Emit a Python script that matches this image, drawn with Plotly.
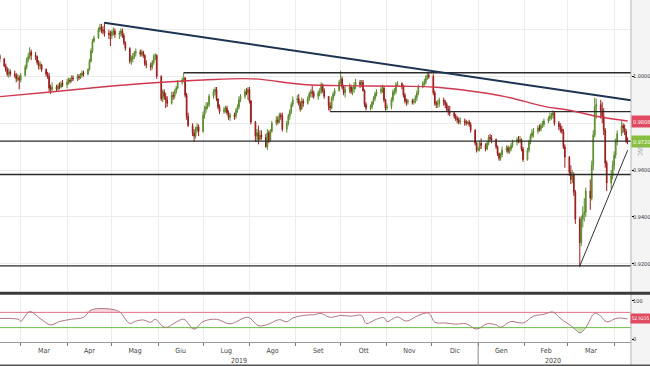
import pandas as pd
import plotly.graph_objects as go

FONT = "Liberation Sans Narrow, DejaVu Sans Condensed, Liberation Sans, sans-serif"

# ---------------- daily OHLC (open = previous close) ----------------
first_open = 1.0090
close = [
    1.0075,
    1.0045, 1.0030, 1.0010, 1.0020, 1.0010,
    1.0005, 0.9990, 0.9995, 0.9985, 1.0005,
    1.0040, 1.0070, 1.0085, 1.0105, 1.0090,
    1.0085, 1.0060, 1.0045, 1.0050, 1.0030,
    1.0010, 1.0000, 0.9950, 0.9945, 0.9955,
    0.9945, 0.9960, 0.9955, 0.9970, 0.9965,
    0.9975, 0.9985, 0.9980, 0.9995, 0.9990,
    1.0000, 0.9995, 1.0005, 1.0015, 1.0010,
    1.0030, 1.0065, 1.0110, 1.0150, 1.0165,
    1.0200, 1.0210, 1.0200, 1.0195, 1.0185,
    1.0180, 1.0175, 1.0190, 1.0195, 1.0180,
    1.0185, 1.0195, 1.0175, 1.0145, 1.0120,
    1.0065, 1.0075, 1.0085, 1.0100, 1.0105,
    1.0095, 1.0105, 1.0090, 1.0055, 1.0050,
    1.0040, 1.0060, 1.0085, 1.0090, 1.0000,
    0.9905, 0.9935, 0.9915, 0.9900, 0.9885,
    0.9920, 0.9915, 0.9935, 0.9950, 0.9975,
    0.9985, 0.9995, 0.9920, 0.9830, 0.9790,
    0.9760, 0.9745, 0.9770, 0.9785, 0.9765,
    0.9835, 0.9860, 0.9870, 0.9880, 0.9915,
    0.9935, 0.9945, 0.9905, 0.9870, 0.9850,
    0.9860, 0.9865, 0.9845, 0.9825, 0.9835,
    0.9830, 0.9855, 0.9870, 0.9900, 0.9915,
    0.9935, 0.9930, 0.9945, 0.9895, 0.9805,
    0.9745, 0.9760, 0.9730, 0.9750, 0.9740,
    0.9700, 0.9760, 0.9725, 0.9765, 0.9800,
    0.9815, 0.9805, 0.9835, 0.9830, 0.9775,
    0.9800, 0.9830, 0.9850, 0.9880, 0.9900,
    0.9905, 0.9885, 0.9860, 0.9895, 0.9885,
    0.9905, 0.9925, 0.9935, 0.9930, 0.9915,
    0.9930, 0.9935, 0.9965, 0.9940, 0.9915,
    0.9875, 0.9865, 0.9905, 0.9925, 0.9940,
    0.9975, 0.9990, 0.9955, 0.9930, 0.9945,
    0.9955, 0.9935, 0.9945, 0.9960, 0.9975,
    0.9965, 0.9975, 0.9940, 0.9880, 0.9865,
    0.9870, 0.9890, 0.9905, 0.9925, 0.9935,
    0.9945, 0.9950, 0.9900, 0.9865, 0.9870,
    0.9900, 0.9935, 0.9935, 0.9965, 0.9970,
    0.9955, 0.9920, 0.9895, 0.9890, 0.9895,
    0.9890, 0.9895, 0.9910, 0.9930, 0.9955,
    0.9970, 0.9975, 0.9995, 1.0005, 1.0000,
    0.9930, 0.9885, 0.9880, 0.9885, 0.9900,
    0.9890, 0.9880, 0.9860, 0.9850, 0.9845,
    0.9830, 0.9820, 0.9815, 0.9805, 0.9810,
    0.9805, 0.9800, 0.9805, 0.9795, 0.9770,
    0.9715, 0.9685, 0.9690, 0.9715, 0.9705,
    0.9690, 0.9715, 0.9740, 0.9735, 0.9730,
    0.9700, 0.9670, 0.9650, 0.9665, 0.9685,
    0.9695, 0.9680, 0.9690, 0.9705, 0.9720,
    0.9730, 0.9725, 0.9730, 0.9690, 0.9645,
    0.9685, 0.9720, 0.9745, 0.9760, 0.9765,
    0.9780, 0.9775, 0.9790, 0.9795, 0.9810,
    0.9820, 0.9830, 0.9835, 0.9845, 0.9800,
    0.9785, 0.9775, 0.9765, 0.9700, 0.9655,
    0.9590, 0.9560, 0.9580, 0.9505, 0.9390,
    0.9290, 0.9390, 0.9410, 0.9420, 0.9510,
    0.9480, 0.9620, 0.9750, 0.9870, 0.9880,
    0.9855, 0.9830, 0.9770, 0.9630, 0.9545,
    0.9575, 0.9620, 0.9665, 0.9720, 0.9755,
    0.9790, 0.9780, 0.9765, 0.9725, 0.9720,
]
high = [
    1.0095,
    1.0080, 1.0055, 1.0040, 1.0035, 1.0030,
    1.0025, 1.0015, 1.0010, 1.0005, 1.0015,
    1.0050, 1.0080, 1.0100, 1.0125, 1.0115,
    1.0105, 1.0090, 1.0070, 1.0065, 1.0055,
    1.0035, 1.0020, 1.0015, 0.9965, 0.9975,
    0.9965, 0.9970, 0.9975, 0.9980, 0.9985,
    0.9990, 0.9995, 0.9995, 1.0005, 1.0005,
    1.0010, 1.0010, 1.0015, 1.0025, 1.0025,
    1.0035, 1.0075, 1.0120, 1.0160, 1.0175,
    1.0210, 1.0225, 1.0225, 1.0215, 1.0232,
    1.0200, 1.0195, 1.0200, 1.0210, 1.0205,
    1.0195, 1.0205, 1.0205, 1.0185, 1.0150,
    1.0125, 1.0090, 1.0100, 1.0110, 1.0120,
    1.0115, 1.0115, 1.0110, 1.0095, 1.0070,
    1.0060, 1.0070, 1.0095, 1.0100, 1.0095,
    1.0005, 0.9945, 0.9945, 0.9930, 0.9915,
    0.9935, 0.9935, 0.9945, 0.9960, 0.9985,
    0.9995, 1.0016, 0.9995, 0.9930, 0.9845,
    0.9800, 0.9775, 0.9785, 0.9800, 0.9795,
    0.9850, 0.9875, 0.9890, 0.9890, 0.9925,
    0.9945, 0.9955, 0.9955, 0.9905, 0.9880,
    0.9870, 0.9875, 0.9875, 0.9855, 0.9845,
    0.9845, 0.9865, 0.9880, 0.9915, 0.9925,
    0.9945, 0.9950, 0.9955, 0.9955, 0.9900,
    0.9810, 0.9775, 0.9790, 0.9770, 0.9770,
    0.9755, 0.9775, 0.9770, 0.9775, 0.9810,
    0.9830, 0.9830, 0.9845, 0.9845, 0.9845,
    0.9810, 0.9840, 0.9860, 0.9890, 0.9915,
    0.9920, 0.9925, 0.9895, 0.9910, 0.9905,
    0.9915, 0.9935, 0.9945, 0.9960, 0.9940,
    0.9940, 0.9950, 0.9975, 0.9970, 0.9950,
    0.9915, 0.9890, 0.9915, 0.9935, 0.9950,
    0.9985, 1.0025, 1.0000, 0.9965, 0.9960,
    0.9970, 0.9965, 0.9955, 0.9975, 0.9990,
    0.9985, 0.9985, 0.9985, 0.9945, 0.9890,
    0.9880, 0.9895, 0.9915, 0.9935, 0.9945,
    0.9960, 0.9965, 0.9960, 0.9905, 0.9885,
    0.9910, 0.9945, 0.9950, 0.9975, 0.9980,
    0.9975, 0.9965, 0.9930, 0.9905, 0.9905,
    0.9905, 0.9905, 0.9920, 0.9940, 0.9965,
    0.9980, 0.9990, 1.0005, 1.0015, 1.0020,
    1.0010, 0.9940, 0.9895, 0.9900, 0.9910,
    0.9910, 0.9900, 0.9890, 0.9875, 0.9875,
    0.9850, 0.9840, 0.9830, 0.9825, 0.9825,
    0.9820, 0.9815, 0.9810, 0.9815, 0.9805,
    0.9775, 0.9720, 0.9700, 0.9725, 0.9735,
    0.9715, 0.9725, 0.9750, 0.9755, 0.9750,
    0.9735, 0.9705, 0.9675, 0.9675, 0.9700,
    0.9705, 0.9705, 0.9700, 0.9715, 0.9730,
    0.9740, 0.9745, 0.9745, 0.9735, 0.9700,
    0.9695, 0.9730, 0.9755, 0.9775, 0.9780,
    0.9790, 0.9795, 0.9800, 0.9810, 0.9820,
    0.9830, 0.9845, 0.9845, 0.9855, 0.9850,
    0.9810, 0.9800, 0.9790, 0.9775, 0.9710,
    0.9660, 0.9620, 0.9600, 0.9590, 0.9515,
    0.9400, 0.9405, 0.9445, 0.9480, 0.9525,
    0.9560, 0.9640, 0.9770, 0.9910, 0.9905,
    0.9900, 0.9890, 0.9865, 0.9780, 0.9640,
    0.9600, 0.9640, 0.9680, 0.9735, 0.9770,
    0.9810, 0.9800, 0.9795, 0.9775, 0.9740,
]
low = [
    1.0060,
    1.0040, 1.0020, 1.0000, 0.9995, 1.0000,
    0.9995, 0.9975, 0.9980, 0.9945, 0.9975,
    1.0000, 1.0030, 1.0060, 1.0075, 1.0070,
    1.0070, 1.0050, 1.0030, 1.0030, 1.0020,
    1.0000, 0.9990, 0.9935, 0.9925, 0.9935,
    0.9935, 0.9940, 0.9945, 0.9950, 0.9955,
    0.9950, 0.9965, 0.9970, 0.9975, 0.9980,
    0.9980, 0.9985, 0.9990, 0.9995, 1.0000,
    1.0005, 1.0025, 1.0060, 1.0100, 1.0145,
    1.0160, 1.0190, 1.0185, 1.0180, 1.0170,
    1.0160, 1.0130, 1.0160, 1.0175, 1.0165,
    1.0160, 1.0170, 1.0165, 1.0135, 1.0110,
    1.0055, 1.0050, 1.0060, 1.0075, 1.0085,
    1.0085, 1.0085, 1.0080, 1.0045, 1.0035,
    1.0025, 1.0030, 1.0050, 1.0070, 0.9990,
    0.9895, 0.9890, 0.9900, 0.9865, 0.9870,
    0.9880, 0.9900, 0.9905, 0.9925, 0.9945,
    0.9965, 0.9975, 0.9910, 0.9815, 0.9785,
    0.9745, 0.9720, 0.9735, 0.9760, 0.9745,
    0.9760, 0.9820, 0.9845, 0.9860, 0.9870,
    0.9905, 0.9920, 0.9895, 0.9860, 0.9840,
    0.9840, 0.9845, 0.9835, 0.9815, 0.9810,
    0.9815, 0.9820, 0.9845, 0.9860, 0.9890,
    0.9905, 0.9920, 0.9900, 0.9885, 0.9795,
    0.9720, 0.9720, 0.9710, 0.9725, 0.9730,
    0.9695, 0.9686, 0.9715, 0.9720, 0.9760,
    0.9790, 0.9795, 0.9800, 0.9815, 0.9765,
    0.9760, 0.9790, 0.9815, 0.9840, 0.9870,
    0.9885, 0.9875, 0.9850, 0.9860, 0.9870,
    0.9880, 0.9895, 0.9910, 0.9910, 0.9905,
    0.9900, 0.9915, 0.9925, 0.9930, 0.9905,
    0.9855, 0.9850, 0.9860, 0.9895, 0.9915,
    0.9935, 0.9965, 0.9945, 0.9920, 0.9910,
    0.9930, 0.9925, 0.9920, 0.9930, 0.9945,
    0.9950, 0.9955, 0.9935, 0.9870, 0.9855,
    0.9855, 0.9860, 0.9880, 0.9895, 0.9915,
    0.9925, 0.9930, 0.9890, 0.9855, 0.9855,
    0.9860, 0.9890, 0.9920, 0.9925, 0.9955,
    0.9945, 0.9910, 0.9885, 0.9875, 0.9880,
    0.9880, 0.9880, 0.9885, 0.9895, 0.9920,
    0.9950, 0.9960, 0.9965, 0.9985, 0.9990,
    0.9920, 0.9875, 0.9865, 0.9865, 0.9870,
    0.9875, 0.9865, 0.9850, 0.9835, 0.9830,
    0.9820, 0.9810, 0.9800, 0.9795, 0.9795,
    0.9790, 0.9790, 0.9795, 0.9785, 0.9760,
    0.9705, 0.9675, 0.9680, 0.9680, 0.9690,
    0.9680, 0.9685, 0.9705, 0.9725, 0.9715,
    0.9690, 0.9660, 0.9640, 0.9640, 0.9655,
    0.9675, 0.9670, 0.9670, 0.9680, 0.9695,
    0.9705, 0.9715, 0.9715, 0.9680, 0.9635,
    0.9640, 0.9675, 0.9710, 0.9735, 0.9740,
    0.9755, 0.9765, 0.9765, 0.9780, 0.9785,
    0.9800, 0.9810, 0.9815, 0.9820, 0.9790,
    0.9770, 0.9760, 0.9755, 0.9690, 0.9610,
    0.9575, 0.9540, 0.9545, 0.9490, 0.9370,
    0.9185, 0.9275, 0.9355, 0.9380, 0.9400,
    0.9430, 0.9470, 0.9600, 0.9740, 0.9820,
    0.9820, 0.9800, 0.9750, 0.9610, 0.9510,
    0.9520, 0.9560, 0.9600, 0.9650, 0.9705,
    0.9745, 0.9760, 0.9750, 0.9715, 0.9710,
]
assert len(close) == len(high) == len(low)
dates = pd.bdate_range("2019-02-15", periods=len(close))
opens = [first_open] + close[:-1]
hi = [max(h, o, c) for h, o, c in zip(high, opens, close)]
lo = [min(l, o, c) for l, o, c in zip(low, opens, close)]

# ---------------- moving average ----------------
ma_dates = ["2019-02-15", "2019-03-21", "2019-04-24", "2019-05-27", "2019-07-01",
            "2019-08-03", "2019-09-06", "2019-10-10", "2019-11-12", "2019-12-02",
            "2019-12-22", "2020-01-19", "2020-02-15", "2020-03-01", "2020-03-22",
            "2020-04-10"]
ma_values = [0.9914, 0.9934, 0.9955, 0.9972, 0.9985,
             0.9990, 0.9966, 0.9960, 0.9958, 0.9955,
             0.9942, 0.9914, 0.9871, 0.9857, 0.9828,
             0.9810]
ma_last = 0.9808
last_price = 0.9720

# ---------------- RSI ----------------
rsi_dates = ["2019-02-15", "2019-02-22", "2019-02-28", "2019-03-01", "2019-03-07",
             "2019-03-14", "2019-03-21", "2019-03-27", "2019-04-04", "2019-04-12",
             "2019-04-17", "2019-04-22", "2019-04-26", "2019-05-01", "2019-05-06",
             "2019-05-13", "2019-05-17", "2019-05-22", "2019-05-27", "2019-05-30",
             "2019-06-04", "2019-06-07", "2019-06-12", "2019-06-18", "2019-06-25",
             "2019-07-01", "2019-07-10", "2019-07-19", "2019-07-31", "2019-08-07",
             "2019-08-13", "2019-08-21", "2019-08-26", "2019-08-30", "2019-09-06",
             "2019-09-13", "2019-09-18", "2019-09-24", "2019-10-01", "2019-10-08",
             "2019-10-15", "2019-10-18", "2019-10-25", "2019-10-30", "2019-11-01",
             "2019-11-08", "2019-11-14", "2019-11-22", "2019-11-29", "2019-12-03",
             "2019-12-10", "2019-12-17", "2019-12-24", "2019-12-31", "2020-01-07",
             "2020-01-13", "2020-01-16", "2020-01-23", "2020-01-31", "2020-02-07",
             "2020-02-14", "2020-02-20", "2020-02-24", "2020-02-27", "2020-03-03",
             "2020-03-06", "2020-03-09", "2020-03-13", "2020-03-19", "2020-03-23",
             "2020-03-27", "2020-04-03", "2020-04-10"]
rsi_values = [54, 54, 51, 46, 72,
              54, 37, 46, 52, 57,
              76, 80, 80, 78, 72,
              41, 47, 50, 44, 52,
              33, 31, 42, 52, 26,
              46, 52, 40, 57, 35,
              38, 51, 45, 55, 62,
              64, 67, 57, 62, 60,
              62, 41, 52, 56, 46,
              58, 47, 62, 68, 44,
              42, 39, 40, 26, 40,
              37, 31, 46, 42, 60,
              65, 71, 58, 48, 35,
              25, 16, 30, 68, 60,
              45, 55, 52.92]
assert len(rsi_dates) == len(rsi_values)
rsi_last_label = "52.9235"
rsi_upper, rsi_lower = 70, 30
source_label = "GSC"

# ---------------- drawn levels / trend lines ----------------
X0, X1 = "2019-02-15 03:36", "2020-04-12 06:00"
res_top, res_top_start = 1.0016, "2019-06-18"
res_mid, res_mid_start = 0.9850, "2019-09-24"
flat_levels = [0.9724, 0.9581, 0.9190]
down_trend_x = ["2019-04-26", X1]
down_trend_y = [1.0230, 0.9898]
up_trend_x = ["2020-03-09", "2020-04-10"]
up_trend_y = [0.9190, 0.9685]

month_starts = pd.date_range("2019-03-01", "2020-04-01", freq="MS")
month_labels = ["Mar", "Apr", "Mag", "Giu", "Lug", "Ago", "Set", "Ott", "Nov",
                "Dic", "Gen", "Feb", "Mar"]
mid_months = [month_starts[i] + (month_starts[i + 1] - month_starts[i]) / 2
              for i in range(len(month_labels))]
year_labels = ["2019", "2020"]
year_pos = ["2019-07-25", "2020-02-20"]

fig = go.Figure()

# level lines (under candles)
for v in flat_levels:
    fig.add_trace(go.Scatter(x=[X0, X1], y=[v, v], mode="lines",
                             line=dict(color="#2b2b2b", width=1.3), hoverinfo="skip"))
fig.add_trace(go.Scatter(x=[res_top_start, X1], y=[res_top, res_top], mode="lines",
                         line=dict(color="#2b2b2b", width=1.3), hoverinfo="skip"))
fig.add_trace(go.Scatter(x=[res_mid_start, X1], y=[res_mid, res_mid], mode="lines",
                         line=dict(color="#2b2b2b", width=1.3), hoverinfo="skip"))

# moving average
fig.add_trace(go.Scatter(x=ma_dates, y=ma_values, mode="lines",
                         line=dict(color="#d0384f", width=1.4, shape="spline"),
                         hoverinfo="skip"))

# candles
fig.add_trace(go.Candlestick(
    x=dates, open=opens, high=hi, low=lo, close=close,
    increasing=dict(line=dict(color="#5a8a2c", width=1), fillcolor="#9cc862"),
    decreasing=dict(line=dict(color="#9a1c1c", width=1), fillcolor="#c42a2a"),
    whiskerwidth=0, xaxis="x", yaxis="y"))

# trend lines
fig.add_trace(go.Scatter(x=down_trend_x, y=down_trend_y, mode="lines",
                         line=dict(color="#1d3350", width=2), hoverinfo="skip"))
fig.add_trace(go.Scatter(x=up_trend_x, y=up_trend_y, mode="lines",
                         line=dict(color="#333333", width=1), hoverinfo="skip"))

# RSI panel
fig.add_trace(go.Scatter(x=[X0, X1], y=[rsi_upper, rsi_upper], mode="lines",
                         line=dict(color="#e27585", width=1), xaxis="x2", yaxis="y2"))
fig.add_trace(go.Scatter(x=rsi_dates, y=[max(v, rsi_upper) for v in rsi_values],
                         mode="lines", line=dict(width=0, shape="spline"),
                         fill="tonexty", fillcolor="rgba(235,140,155,0.35)",
                         xaxis="x2", yaxis="y2"))
fig.add_trace(go.Scatter(x=[X0, X1], y=[rsi_lower, rsi_lower], mode="lines",
                         line=dict(color="#6cbf4f", width=1), xaxis="x2", yaxis="y2"))
fig.add_trace(go.Scatter(x=rsi_dates, y=[min(v, rsi_lower) for v in rsi_values],
                         mode="lines", line=dict(width=0, shape="spline"),
                         fill="tonexty", fillcolor="rgba(150,210,100,0.5)",
                         xaxis="x2", yaxis="y2"))
fig.add_trace(go.Scatter(x=rsi_dates, y=rsi_values, mode="lines",
                         line=dict(color="#b07585", width=1, shape="spline"),
                         xaxis="x2", yaxis="y2"))

H_PLOT = 342.0
def py(px):
    return (H_PLOT - px) / H_PLOT

grid = "#ececec"
AX_FONT = dict(size=5.5, color="#333")
fig.update_layout(
    width=650, height=366, margin=dict(l=0, r=19, t=0, b=24, autoexpand=False),
    paper_bgcolor="white", plot_bgcolor="white", showlegend=False,
    font=dict(family=FONT, size=7, color="#444"),
    xaxis=dict(domain=[0, 1], anchor="y", type="date", range=[X0, X1],
               automargin=False,
               showticklabels=False, ticks="", showgrid=False, zeroline=False,
               rangeslider=dict(visible=False),
               minor=dict(tickmode="array", tickvals=list(month_starts), showgrid=True,
                          gridcolor=grid, gridwidth=1, ticks="")),
    yaxis=dict(domain=[py(291), 1], anchor="x", side="right", range=[0.9083, 1.0327],
               automargin=False,
               tickmode="array", tickvals=[0.92, 0.94, 0.96, 1.00], tickformat=".4f",
               ticks="outside", ticklen=2, tickcolor="#000", showgrid=False,
               ticklabelstandoff=-2,
               zeroline=False, tickfont=AX_FONT,
               minor=dict(tickmode="array",
                          tickvals=[0.92, 0.94, 0.96, 0.98, 1.00, 1.02],
                          showgrid=True, gridcolor=grid, ticks="")),
    xaxis2=dict(domain=[0, 1], anchor="y2", type="date", range=[X0, X1],
                automargin=False,
                tickmode="array", tickvals=mid_months, ticktext=month_labels,
                ticks="", showgrid=False, zeroline=False, showline=True,
                linecolor="#999", linewidth=1, tickfont=dict(size=7, color="#444"),
                ticklabelstandoff=2,
                minor=dict(tickmode="array", tickvals=list(month_starts),
                           ticks="outside", ticklen=3, tickcolor="#777",
                           showgrid=True, gridcolor=grid)),
    yaxis2=dict(domain=[0, py(297)], anchor="x2", side="right", range=[-7.9, 110.5],
                automargin=False,
                tickmode="array", tickvals=[0, 100], ticks="outside", ticklen=2,
                ticklabelstandoff=-2,
                tickcolor="#000", showgrid=False, zeroline=False,
                tickfont=AX_FONT),
)

shapes = [
    # right axis strip
    dict(type="rect", xref="paper", yref="paper", x0=1, x1=1.04, y0=py(366), y1=1,
         fillcolor="#f4f4f4", line=dict(width=0), layer="below"),
    dict(type="line", xref="paper", yref="paper", x0=1, x1=1, y0=py(366), y1=1,
         line=dict(color="#b5b5b5", width=1)),
    # separator between panels
    dict(type="line", xref="paper", yref="paper", x0=0, x1=1.04, y0=py(293.3), y1=py(293.3),
         line=dict(color="#3a3a3a", width=3)),
    # bottom border
    dict(type="line", xref="paper", yref="paper", x0=0, x1=1.04, y0=py(365.3), y1=py(365.3),
         line=dict(color="#555", width=1.5)),
    # year separator
    dict(type="line", xref="x2", yref="paper", x0="2020-01-01", x1="2020-01-01",
         y0=py(343), y1=py(366), line=dict(color="#888", width=1)),
]
fig.update_layout(shapes=shapes)

ann = []
for t, xp in zip(year_labels, year_pos):
    ann.append(dict(x=xp, xref="x2", y=py(360.5), yref="paper", yanchor="middle",
                    text=t, showarrow=False, font=dict(size=7, color="#444")))
ann.append(dict(x=1, xref="paper", xanchor="left", y=ma_last, yref="y",
                text=f"{ma_last:.4f}", showarrow=False, bgcolor="#e04a60",
                font=dict(size=5.5, color="white"), borderpad=1, height=9))
ann.append(dict(x=1, xref="paper", xanchor="left", y=last_price, yref="y",
                text=f"{last_price:.4f}", showarrow=False, bgcolor="#86c03e",
                font=dict(size=5.5, color="white"), borderpad=1, height=9))
ann.append(dict(x=1, xref="paper", xanchor="left", xshift=-1, y=52.92, yref="y2",
                text=rsi_last_label, showarrow=False, bgcolor="#e04a60",
                font=dict(size=4.8, color="white"), borderpad=0.5, height=8))
ann.append(dict(x=1, xref="paper", xanchor="left", xshift=4, y=0.9685, yref="y",
                text=source_label, textangle=90, showarrow=False,
                font=dict(size=6, color="#9a9a9a")))
fig.update_layout(annotations=ann)

fig.write_html("out.html",
               config={"displayModeBar": False, "responsive": False},
               post_script="document.body.style.margin='0';"
                           "document.body.style.overflow='hidden';")
